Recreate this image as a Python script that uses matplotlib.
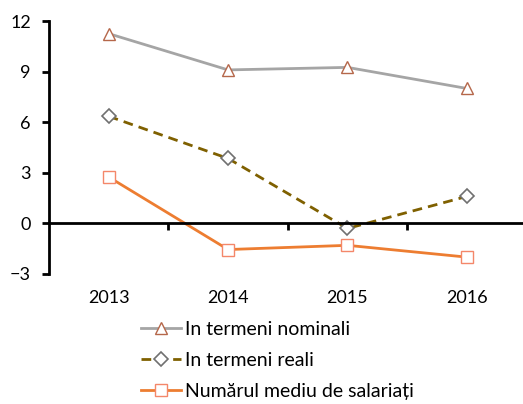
import matplotlib.pyplot as plt
from matplotlib.ticker import FixedLocator

plt.rcParams["font.family"] = ["Lato", "DejaVu Sans"]

years = ["2013", "2014", "2015", "2016"]
nominal = [11.25, 9.1, 9.25, 8.0]
real = [6.35, 3.85, -0.3, 1.6]
employees = [2.75, -1.55, -1.3, -2.0]
y_ticks = [-3, 0, 3, 6, 9, 12]
labels = ["In termeni nominali", "In termeni reali", "Numărul mediu de salariați"]

fig = plt.figure(figsize=(5.23, 4.04), dpi=100)
ax = fig.add_axes([49 / 523, 1 - 274 / 404, 474 / 523, 253 / 404])

x = range(len(years))
ax.plot(x, nominal, color="#A5A5A5", lw=2, marker="^", ms=9, mfc="white",
        mec="#B5674A", mew=1, label=labels[0])
ax.plot(x, real, color="#7F6000", lw=2, ls=(0, (3.5, 2.2)), marker="D", ms=7,
        mfc="white", mec="#707070", mew=1.2, label=labels[1])
ax.plot(x, employees, color="#ED7D31", lw=2, marker="s", ms=9, mfc="white",
        mec="#F4876A", mew=1, label=labels[2])

ax.set_xlim(-0.5, 3.47)
ax.set_ylim(-3, 12)
ax.set_yticks(y_ticks)
ax.tick_params(axis="y", labelsize=13, length=5, width=2, direction="out", pad=8)

# x axis drawn at zero, separators between categories
ax.spines["bottom"].set_position(("data", 0))
ax.spines["bottom"].set_linewidth(2)
ax.spines["left"].set_linewidth(2)
ax.spines["top"].set_visible(False)
ax.spines["right"].set_visible(False)
ax.set_xticks(list(x))
ax.set_xticklabels(years)
ax.xaxis.set_minor_locator(FixedLocator([0.5, 1.5, 2.5]))
ax.tick_params(axis="x", which="major", length=0, labelsize=13, pad=48)
ax.tick_params(axis="x", which="minor", length=5, width=2, direction="out")

fig.legend(loc="upper left", bbox_to_anchor=(141 / 523, 1 - 321 / 404),
           frameon=False, fontsize=14, handlelength=2.05, handletextpad=0.22,
           labelspacing=0.72, borderpad=0, borderaxespad=0)

fig.savefig("out.png", dpi=100)
